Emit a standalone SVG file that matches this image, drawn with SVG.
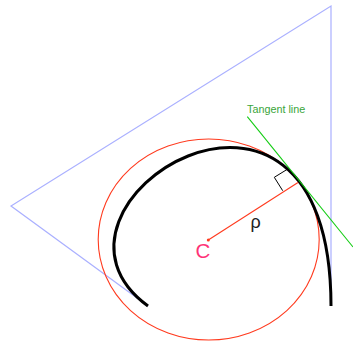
<svg xmlns="http://www.w3.org/2000/svg" width="353" height="344" viewBox="0 0 353 344">
<style>
.poly{fill:none;stroke:#aab0ff;stroke-width:1.2}
.curve{fill:none;stroke:#000;stroke-width:3}
.osc{fill:none;stroke:#ff3a1e;stroke-width:1.1}
.tan{fill:none;stroke:#11cc11;stroke-width:1.1}
.rad{fill:none;stroke:#ff3a1e;stroke-width:1.1}
.ra{fill:none;stroke:#000;stroke-width:1}
text{font-family:"Liberation Sans",Arial,sans-serif}
</style>
<rect width="353" height="344" fill="#fff"/>
<g id="control-polygon">
<polyline class="poly" points="148,306 11,206 331,6 331,306"/>
</g>
<g id="osculating-circle">
<ellipse class="osc" cx="208.7" cy="239.5" rx="110.5" ry="100.5"/>
</g>
<g id="curve">
<path class="curve" d="M148,306 C11,206 331,6 331,306"/>
</g>
<g id="tangent">
<line class="tan" x1="247.3" y1="116.7" x2="353" y2="247"/>
<text x="247" y="112.5" font-size="10.8" fill="#3aa53a">Tangent line</text>
</g>
<g id="radius">
<line class="rad" x1="208.3" y1="240" x2="298" y2="182.5"/>
<circle cx="208.3" cy="240" r="1.5" fill="#ff3a1e"/>
<polyline class="ra" points="287.3,169.3 274.3,177.3 282.7,190.7"/>
<text x="250.5" y="227.5" font-size="18" fill="#222">ρ</text>
</g>
<g id="center-label">
<text x="195.5" y="258.3" font-size="20.5" fill="#ff3377">C</text>
</g>
</svg>
